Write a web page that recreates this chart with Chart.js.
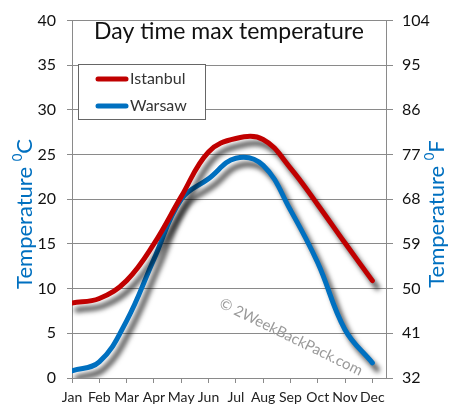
<!DOCTYPE html>
<html>
<head>
<meta charset="utf-8">
<script src="https://cdn.jsdelivr.net/npm/chart.js@4"></script>
<style>
  html, body { margin: 0; padding: 0; background: #fff; }
  #wrap { width: 454px; height: 419px; position: relative; }
</style>
</head>
<body>
<div id="wrap"><canvas id="chartTemp"></canvas></div>
<script>
// ── DATA ────────────────────────────────────────────────────────────
const MONTHS   = ['Jan', 'Feb', 'Mar', 'Apr', 'May', 'Jun', 'Jul', 'Aug', 'Sep', 'Oct', 'Nov', 'Dec'];
const ISTANBUL = [8.4, 8.9, 10.9, 15.0, 20.3, 25.3, 26.8, 26.7, 23.5, 19.4, 15.1, 10.9];
const WARSAW   = [0.8, 1.8, 6.4, 13.3, 20.0, 22.3, 24.6, 23.8, 18.8, 12.9, 5.4, 1.7];
const SERIES_NAMES = ['Istanbul', 'Warsaw'];
const TITLE_TEXT   = 'Day time max temperature';
const LEFT_TITLE   = 'Temperature';
const RIGHT_TITLE  = 'Temperature';
const WATERMARK    = '\u00A9 2WeekBackPack.com';

const RED   = '#C00000';
const BLUE  = '#0070C0';
const GRID  = '#8a8a8a';
const FONT  = "Lato, 'Open Sans', sans-serif";

// ── PLUGINS ─────────────────────────────────────────────────────────
const lineShadow = {
  id: 'lineShadow',
  beforeDatasetDraw(chart) {
    const ctx = chart.ctx;
    ctx.save();
    ctx.shadowColor = 'rgba(0,0,0,0.7)';
    ctx.shadowBlur = 5;
    ctx.shadowOffsetX = 5;
    ctx.shadowOffsetY = 7;
  },
  afterDatasetDraw(chart) {
    chart.ctx.restore();
  }
};

// title, watermark, legend box and axis titles
const decorations = {
  id: 'decorations',
  beforeDatasetsDraw(chart) {
    const ctx = chart.ctx;
    ctx.save();
    ctx.translate(291, 337);
    ctx.rotate(26 * Math.PI / 180);
    ctx.font = '15px ' + FONT;
    ctx.fillStyle = '#9a9a9a';
    ctx.textAlign = 'center';
    ctx.textBaseline = 'middle';
    ctx.fillText(WATERMARK, 0, 0);
    ctx.restore();
  },
  afterDraw(chart) {
    const { ctx, chartArea } = chart;
    const cx = (chartArea.left + chartArea.right) / 2;

    // main title
    ctx.save();
    ctx.font = '23px ' + FONT;
    ctx.fillStyle = '#111';
    ctx.textAlign = 'center';
    ctx.textBaseline = 'middle';
    ctx.fillText(TITLE_TEXT, cx, 32);
    ctx.restore();

    // legend
    ctx.save();
    ctx.fillStyle = '#fff';
    ctx.fillRect(78.5, 64.5, 127, 55);
    ctx.strokeStyle = '#666';
    ctx.lineWidth = 1;
    ctx.strokeRect(78.5, 64.5, 127, 55);
    const colors = [RED, BLUE];
    const rows = [79, 106];
    SERIES_NAMES.forEach((name, i) => {
      ctx.beginPath();
      ctx.lineCap = 'round';
      ctx.lineWidth = 5;
      ctx.strokeStyle = colors[i];
      ctx.moveTo(98, rows[i]);
      ctx.lineTo(126, rows[i]);
      ctx.stroke();
      ctx.font = '16px ' + FONT;
      ctx.fillStyle = '#333';
      ctx.textAlign = 'left';
      ctx.textBaseline = 'middle';
      ctx.fillText(name, 130, rows[i]);
    });
    ctx.restore();

    // axis titles
    drawAxisTitle(ctx, 25, 214, LEFT_TITLE, 'C');
    drawAxisTitle(ctx, 437, 214, RIGHT_TITLE, 'F');
  }
};

function drawAxisTitle(ctx, x, y, text, unit) {
  ctx.save();
  ctx.translate(x, y);
  ctx.rotate(-Math.PI / 2);
  ctx.fillStyle = BLUE;
  ctx.textBaseline = 'middle';
  ctx.font = '22px ' + FONT;
  const w1 = ctx.measureText(text + ' ').width;
  ctx.font = '13px ' + FONT;
  const w2 = ctx.measureText('0').width;
  ctx.font = '22px ' + FONT;
  const w3 = ctx.measureText(unit).width;
  let px = -(w1 + w2 + w3) / 2;
  ctx.textAlign = 'left';
  ctx.fillText(text + ' ', px, 0);
  px += w1;
  ctx.font = '13px ' + FONT;
  ctx.fillText('0', px, -7);
  px += w2;
  ctx.font = '22px ' + FONT;
  ctx.fillText(unit, px, 0);
  ctx.restore();
}

// ── CHART ───────────────────────────────────────────────────────────
Chart.defaults.font.family = FONT;

const toPoints = arr => arr.map((v, i) => ({ x: i, y: v }));

new Chart(document.getElementById('chartTemp'), {
  type: 'line',
  data: {
    datasets: [
      {
        label: SERIES_NAMES[0],
        data: toPoints(ISTANBUL),
        borderColor: RED,
        borderWidth: 5,
        borderCapStyle: 'round',
        borderJoinStyle: 'round',
        pointRadius: 0,
        tension: 0.4,
        fill: false,
        yAxisID: 'y'
      },
      {
        label: SERIES_NAMES[1],
        data: toPoints(WARSAW),
        borderColor: BLUE,
        borderWidth: 5,
        borderCapStyle: 'round',
        borderJoinStyle: 'round',
        pointRadius: 0,
        tension: 0.4,
        fill: false,
        yAxisID: 'y'
      }
    ]
  },
  options: {
    responsive: true,
    maintainAspectRatio: false,
    animation: false,
    layout: { padding: { top: 13, left: 0, right: 0, bottom: 0 } },
    plugins: {
      legend: { display: false },
      tooltip: { enabled: false }
    },
    scales: {
      x: {
        type: 'linear',
        min: 0,
        max: 11.5,
        // one tick per month, nothing at the padded end
        afterBuildTicks(s) {
          s.ticks = MONTHS.map((_, i) => ({ value: i }));
        },
        afterFit(s) { s.height = 41; },
        ticks: {
          autoSkip: false,
          maxRotation: 0,
          padding: 6,
          color: '#222',
          font: { size: 14 },
          callback: v => MONTHS[v]
        },
        grid: { drawOnChartArea: false, color: GRID, tickLength: 5 },
        border: { color: GRID }
      },
      y: {
        position: 'left',
        min: 0,
        max: 40,
        afterFit(s) { s.width = 72; },
        ticks: { stepSize: 5, padding: 11, color: '#111', font: { size: 16 } },
        grid: { color: GRID, tickLength: 5 },
        border: { color: GRID }
      },
      y2: {
        position: 'right',
        min: 32,
        max: 104,
        afterFit(s) { s.width = 68; },
        ticks: { stepSize: 9, padding: 9, color: '#111', font: { size: 16 } },
        grid: { drawOnChartArea: false, color: GRID, tickLength: 7 },
        border: { color: GRID }
      }
    }
  },
  plugins: [lineShadow, decorations]
});
</script>
</body>
</html>
